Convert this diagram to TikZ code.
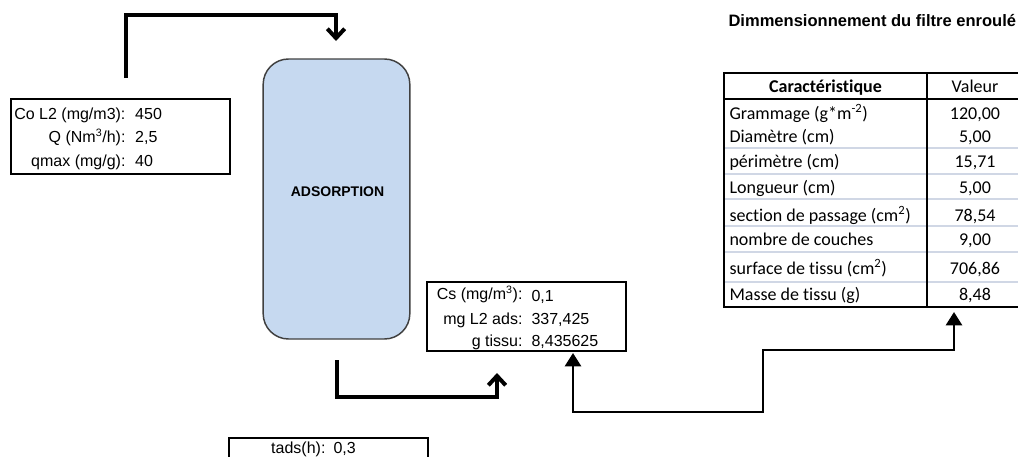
\documentclass[tikz,border=0pt]{standalone}
\usepackage{fontspec}
\setmainfont{Liberation Sans}
\newfontfamily\calfont[Ligatures=NoCommon]{Carlito}
\usetikzlibrary{arrows.meta}
\definecolor{colfill}{RGB}{198,217,240}
\definecolor{gridcol}{RGB}{208,215,229}
\begin{document}
\begin{tikzpicture}[x=.75pt,y=-.75pt,line width=.8pt,font=\fontsize{12}{14}\selectfont,
  databox/.style={draw,line width=1.6pt,inner sep=0pt},
  lbl/.style={anchor=base east,inner sep=0pt},
  val/.style={anchor=base west,inner sep=0pt},
  cell/.style={anchor=base west,inner sep=0pt,font=\calfont\fontsize{13.5}{15}\selectfont},
  num/.style={anchor=base,inner sep=0pt,font=\calfont\fontsize{13.5}{15}\selectfont},
  flow/.style={line width=3pt,-{Straight Barb[length=7pt,width=13pt]}},
  link/.style={line width=2pt,{Triangle[length=10pt,width=12pt]}-{Triangle[length=10pt,width=12pt]}}]
\useasboundingbox (0,0) rectangle (1018,457);
\clip (0,0) rectangle (1018,457);
\node[anchor=base west,inner sep=0pt,font=\bfseries\fontsize{12.4}{14}\selectfont] (titre) at (728,26) {Dimmensionnement du filtre enroulé};
\node[draw=black!75,fill=colfill,line width=1.1pt,rounded corners=19pt,minimum width=110pt,minimum height=210pt,inner sep=0pt] (adsorb) at (336.5,199) {};
\node[anchor=base,inner sep=0pt,font=\bfseries\fontsize{10.5}{12}\selectfont] (adslbl) at (337.5,196) {ADSORPTION};
\node[databox,minimum width=164pt,minimum height=56pt] (inbox) at (120.5,136.5) {};
\node[lbl] (col2) at (126,119) {Co L2 (mg/m3):};
\node[val] (col2v) at (134.7,119) {450};
\node[lbl] (debit) at (126,142.7) {Q (Nm\textsuperscript{3}/h):};
\node[val] (debitv) at (134.7,142.7) {2,5};
\node[lbl] (qmax) at (126,166.7) {qmax (mg/g):};
\node[val] (qmaxv) at (134.7,166.7) {40};
\node[databox,minimum width=149pt,minimum height=52pt] (resbox) at (526.5,316.5) {};
\node[lbl] (cs) at (523,299.5) {Cs (mg/m\textsuperscript{3}):};
\node[val] (csv) at (531,301.5) {0,1};
\node[lbl] (mgads) at (523,324.3) {mg L2 ads:};
\node[val] (mgadsv) at (531,324.3) {337,425};
\node[lbl] (gtis) at (523,346) {g tissu:};
\node[val] (gtisv) at (531,346) {8,435625};
\node[databox,anchor=north,minimum width=149pt,minimum height=52pt] (tbox) at (328.5,437) {};
\node[lbl] (tads) at (326,453) {tads(h):};
\node[val] (tadsv) at (333,453) {0,3};
\draw[gridcol] (724,148)--(1018,148) (724,174)--(1018,174) (724,199)--(1018,199) (724,226)--(1018,226) (724,252)--(1018,252) (724,282)--(1018,282);
\draw (927,73)--(927,307);
\draw[line width=1.5pt] (1030,73)--(724,73)--(724,307)--(1030,307) (724,99)--(1030,99);
\node[num,font=\calfont\bfseries\fontsize{13.5}{15}\selectfont] (carac) at (825.5,92.7) {Caractéristique};
\node[num] (valeur) at (975,92.7) {Valeur};
\node[cell] (gram) at (729,119.3) {Grammage (g*m\textsuperscript{-2})};
\node[num] (gramv) at (975,119.3) {120,00};
\node[cell] (diam) at (729,142.7) {Diamètre (cm)};
\node[num] (diamv) at (975,142.7) {5,00};
\node[cell] (perim) at (729,167.7) {périmètre (cm)};
\node[num] (perimv) at (975,167.7) {15,71};
\node[cell] (longr) at (729,193) {Longueur (cm)};
\node[num] (longrv) at (975,193) {5,00};
\node[cell] (sect) at (729,221.5) {section de passage (cm\textsuperscript{2})};
\node[num] (sectv) at (975,221.5) {78,54};
\node[cell] (couch) at (729,245.8) {nombre de couches};
\node[num] (couchv) at (975,245.8) {9,00};
\node[cell] (surf) at (729,274.5) {surface de tissu (cm\textsuperscript{2})};
\node[num] (surfv) at (975,274.5) {706,86};
\node[cell] (masse) at (729,300.7) {Masse de tissu (g)};
\node[num] (massev) at (975,300.7) {8,48};
\coordinate (feedout) at (126,78);
\coordinate (colin) at (336,41);
\coordinate (colout) at (337,360);
\coordinate (resin) at (497,373);
\coordinate (tisin) at (573,353);
\coordinate (tabin) at (954,312);
\draw[flow] (feedout) -- ++(0,-63) -| (colin);
\draw[flow] (colout) -- ++(0,37) -| (resin);
\draw[link] (tisin) |- (763,412) -- (763,350) -| (tabin);
\end{tikzpicture}
\end{document}
